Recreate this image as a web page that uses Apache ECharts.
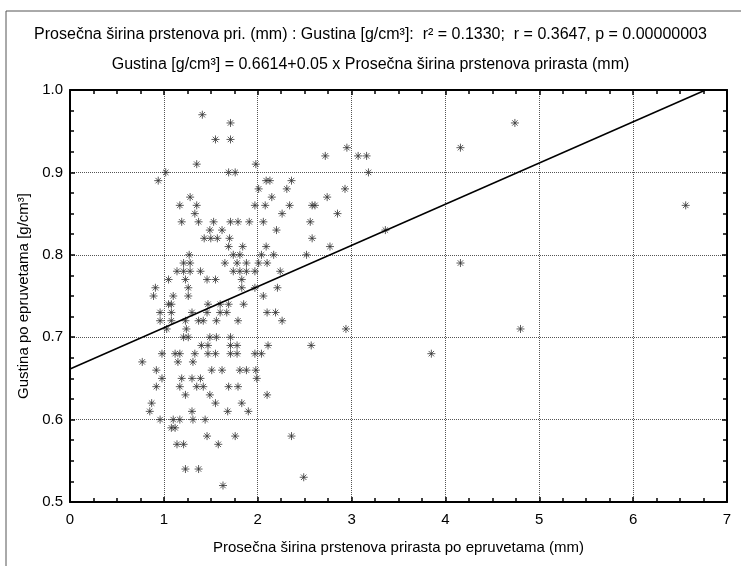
<!DOCTYPE html>
<html>
<head>
<meta charset="utf-8">
<script src="https://cdn.jsdelivr.net/npm/echarts@6/dist/echarts.min.js"></script>
<style>
html,body{margin:0;padding:0;background:#fff;}
#chart{width:741px;height:566px;}
</style>
</head>
<body>
<div id="chart"></div>
<script>
// Prosečna širina prstenova prirasta (mm)
var ringWidth = [
1.41,1.71,1.55,1.71,1.35,1.98,1.02,0.94,1.69,1.76,2.01,1.28,1.17,1.35,1.33,1.97,1.19,1.37,1.53,1.71,1.79,1.91,1.49,1.62,1.43,1.50,1.57,1.70,1.69,1.84,1.27,1.74,1.81,
2.04,2.17,
1.21,1.28,1.65,1.78,1.88,2.01,2.10,
1.14,1.21,1.28,1.39,1.74,1.81,1.88,1.97,2.24,
1.05,1.23,1.46,1.55,1.83,
1.83,1.26,1.97,2.21,0.91,
0.89,1.10,1.26,2.06,
1.05,1.08,1.47,1.60,1.69,1.85,
0.96,1.08,1.30,1.46,1.60,1.67,2.10,2.19,
0.96,1.08,1.23,1.37,1.42,1.56,1.79,2.26,
1.03,1.24,
1.21,1.26,1.49,1.56,1.71,
1.40,1.47,1.71,1.78,2.11,
0.77,
0.98,1.12,1.17,1.33,1.47,1.55,1.71,1.78,1.97,2.04,
1.15,1.31,
0.92,1.51,1.62,1.81,1.88,1.98,
0.98,1.19,1.30,1.39,1.99,
0.92,1.17,1.35,1.42,1.69,1.79,
1.23,1.49,2.10,
1.55,1.83,0.87,
0.85,1.30,1.68,1.90,
0.96,1.10,1.17,1.31,1.44,
1.08,1.12,
1.46,1.76,2.36,
1.14,1.21,1.58,
1.23,1.37,
1.63,
2.95,2.72,3.07,3.16,3.18,2.09,2.13,2.36,2.31,2.93,2.15,2.74,2.08,2.34,2.58,2.61,2.26,2.85,2.06,2.56,2.20,2.58,2.09,2.77,2.52,3.36,
2.94,2.57,2.49,
4.74,4.16,6.56,4.16,4.80,3.85
];
// Gustina po epruvetama [g/cm3]
var density = [
0.97,0.96,0.94,0.94,0.91,0.91,0.90,0.89,0.90,0.90,0.88,0.87,0.86,0.86,0.85,0.86,0.84,0.84,0.84,0.84,0.84,0.84,0.83,0.83,0.82,0.82,0.82,0.82,0.81,0.81,0.80,0.80,0.80,
0.80,0.80,
0.79,0.79,0.79,0.79,0.79,0.79,0.79,
0.78,0.78,0.78,0.78,0.78,0.78,0.78,0.78,0.78,
0.77,0.77,0.77,0.77,0.77,
0.76,0.76,0.76,0.76,0.76,
0.75,0.75,0.75,0.75,
0.74,0.74,0.74,0.74,0.74,0.74,
0.73,0.73,0.73,0.73,0.73,0.73,0.73,0.73,
0.72,0.72,0.72,0.72,0.72,0.72,0.72,0.72,
0.71,0.71,
0.70,0.70,0.70,0.70,0.70,
0.69,0.69,0.69,0.69,0.69,
0.67,
0.68,0.68,0.68,0.68,0.68,0.68,0.68,0.68,0.68,0.68,
0.67,0.67,
0.66,0.66,0.66,0.66,0.66,0.66,
0.65,0.65,0.65,0.65,0.65,
0.64,0.64,0.64,0.64,0.64,0.64,
0.63,0.63,0.63,
0.62,0.62,0.62,
0.61,0.61,0.61,0.61,
0.60,0.60,0.60,0.60,0.60,
0.59,0.59,
0.58,0.58,0.58,
0.57,0.57,0.57,
0.54,0.54,
0.52,
0.93,0.92,0.92,0.92,0.90,0.89,0.89,0.89,0.88,0.88,0.87,0.87,0.86,0.86,0.86,0.86,0.85,0.85,0.84,0.84,0.83,0.82,0.81,0.81,0.80,0.83,
0.71,0.69,0.53,
0.96,0.93,0.86,0.79,0.71,0.68
];
var xTicks = [0,1,2,3,4,5,6,7];
var yTicks = [0.5,0.6,0.7,0.8,0.9,1.0];
var regIntercept = 0.6614;
var regSlope = 0.05;
var title1 = 'Prosečna širina prstenova pri. (mm) : Gustina [g/cm³]:  r² = 0.1330;  r = 0.3647, p = 0.00000003';
var title2 = 'Gustina [g/cm³] = 0.6614+0.05 x Prosečna širina prstenova prirasta (mm)';
var xName = 'Prosečna širina prstenova prirasta po epruvetama (mm)';
var yName = 'Gustina po epruvetama [g/cm³]';

var points = ringWidth.map(function(v,i){return [v, density[i]];});
var yMax = yTicks[yTicks.length-1];
var xEnd = (yMax - regIntercept)/regSlope;
var regLine = [[0, regIntercept],[xEnd, regIntercept + regSlope*xEnd]];

var FONT = '"Liberation Sans", Arial, sans-serif';
var asterisk = 'path://M0,5L10,5M5,0L5,10M1.6,1.6L8.4,8.4M8.4,1.6L1.6,8.4';

function axisCommon(showLabel){
  return {
    axisLine:{show:true,onZero:false,lineStyle:{color:'#000',width:2}},
    axisTick:{show:true,inside:true,length:5,lineStyle:{color:'#000',width:1.5}},
    minorTick:{show:true,splitNumber:4,length:4,lineStyle:{color:'#000',width:1.5}},
    axisLabel:{show:showLabel,color:'#000',fontFamily:FONT,fontSize:15},
    splitLine:{show:false},
    minorSplitLine:{show:false}
  };
}

var chart = echarts.init(document.getElementById('chart'), null, {renderer:'canvas'});
var xa = axisCommon(true);
var xb = axisCommon(false);
var ya = axisCommon(true);
var yb = axisCommon(false);
var option = {
  animation:false,
  backgroundColor:'#fff',
  graphic:[
    {type:'rect',shape:{x:6,y:11,width:800,height:700},style:{fill:'none',stroke:'#555',lineWidth:1},silent:true,z:-1},
    {type:'text',left:'center',top:27,style:{text:title1,font:'16px '+FONT,fill:'#000'}},
    {type:'text',left:'center',top:57,style:{text:title2,font:'16px '+FONT,fill:'#000'}}
  ],
  grid:{left:70,right:14,top:90,bottom:64,containLabel:false},
  xAxis:[
    Object.assign(xa,{type:'value',min:0,max:7,interval:1,position:'bottom',
      name:xName,nameLocation:'middle',nameGap:38,
      nameTextStyle:{color:'#000',fontFamily:FONT,fontSize:15},
      axisLabel:Object.assign(xa.axisLabel,{margin:10}),
      splitLine:{show:true,lineStyle:{color:'#555',type:[1,1],width:1}}}),
    Object.assign(xb,{type:'value',min:0,max:7,interval:1,position:'top',gridIndex:0})
  ],
  yAxis:[
    Object.assign(ya,{type:'value',min:0.5,max:1.0,interval:0.1,position:'left',
      name:yName,nameLocation:'middle',nameGap:38,nameRotate:90,
      nameTextStyle:{color:'#000',fontFamily:FONT,fontSize:15},
      axisLabel:Object.assign(ya.axisLabel,{margin:7,formatter:function(v){return v.toFixed(1);}}),
      splitLine:{show:true,lineStyle:{color:'#555',type:[1,1],width:1}}}),
    Object.assign(yb,{type:'value',min:0.5,max:1.0,interval:0.1,position:'right'})
  ],
  series:[
    {type:'scatter',xAxisIndex:0,yAxisIndex:0,data:points,symbol:asterisk,symbolSize:8,
     itemStyle:{color:'rgba(0,0,0,0)',borderColor:'#333',borderWidth:1},z:3},
    {type:'line',xAxisIndex:0,yAxisIndex:0,data:regLine,showSymbol:false,symbol:'none',
     lineStyle:{color:'#000',width:1.5},z:4}
  ]
};
chart.setOption(option);
</script>
</body>
</html>
